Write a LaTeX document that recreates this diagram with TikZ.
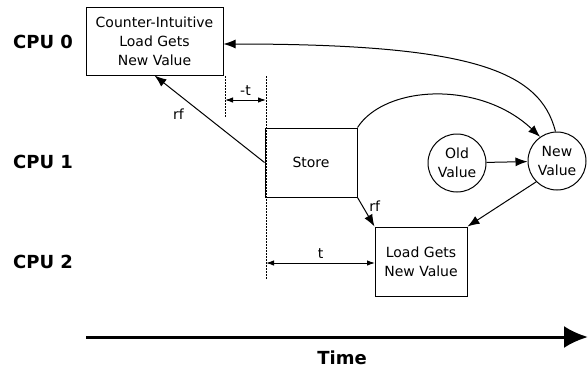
\documentclass[tikz,border=0pt]{standalone}
\usepackage{fontspec}
\setmainfont{DejaVu Sans}
\usetikzlibrary{arrows.meta}
\begin{document}
\begin{tikzpicture}[x=1pt,y=-1pt,
  box/.style={draw,line width=1pt,align=center,font=\fontsize{14}{19}\selectfont,inner sep=0pt},
  circ/.style={draw,line width=1pt,circle,align=center,minimum size=58pt,inner sep=0pt,font=\fontsize{14}{19}\selectfont},
  cpu/.style={font=\fontsize{18}{20}\selectfont\bfseries,inner sep=0pt},
  lbl/.style={font=\fontsize{14}{17}\selectfont},
  arr/.style={line width=1pt,-{Latex[length=12pt,width=9pt]}},
  darr/.style={line width=1pt,{Latex[length=8pt,width=5.5pt]}-{Latex[length=8pt,width=5.5pt]}},
  dots/.style={line width=1pt,dash pattern=on 1.5pt off 1.5pt}]
\useasboundingbox (0,0) rectangle (588,372);
\node[cpu] (c0) at (43,42) {CPU 0};
\node[cpu] (c1) at (43,162) {CPU 1};
\node[cpu] (c2) at (43,262) {CPU 2};
\node[box,minimum width=137pt,minimum height=68pt] (cpu0) at (154.5,41) {Counter-Intuitive\\Load Gets\\New Value};
\node[box,minimum width=92pt,minimum height=69pt] (store) at (311,162.5) {Store};
\node[box,minimum width=92pt,minimum height=69pt] (load) at (421,261.5) {Load Gets\\New Value};
\node[circ] (old) at (457,163) {Old\\Value};
\node[circ] (new) at (557,161) {New\\Value};
\coordinate (d1a) at (225,76);
\coordinate (d1b) at (225,117);
\coordinate (d2a) at (266,76);
\coordinate (d2b) at (266,280);
\coordinate (m1a) at (225,100);
\coordinate (m1b) at (266,100);
\coordinate (m2a) at (266,263);
\coordinate (m2b) at (375,263);
\coordinate (ta) at (86,337);
\coordinate (tb) at (588,337);
\draw[dots] (d1a) -- (d1b);
\draw[dots] (d2a) -- (d2b);
\draw[darr] (m1a) -- node[lbl,above=1pt] {-t} (m1b);
\draw[darr] (m2a) -- node[lbl,above=1pt] {t} (m2b);
\draw[arr] (old) -- (new);
\draw[arr] (store.north east) .. controls (385,85) and (480,80) .. (new.125);
\draw[arr] (new.93) .. controls (540,70) and (470,44) .. ([yshift=-3pt]cpu0.east);
\draw[arr] (store.west) -- node[lbl,pos=0.68,below left=2pt] {rf} (cpu0.south);
\draw[arr] (store.south east) -- node[lbl,right=3pt,pos=0.3] {rf} (load.north west);
\draw[arr] (new.225) -- (load.north east);
\draw[line width=3pt,-{Latex[length=24pt,width=22pt]}] (ta) -- (tb);
\node[cpu] (time) at (342,358) {Time};
\end{tikzpicture}
\end{document}
